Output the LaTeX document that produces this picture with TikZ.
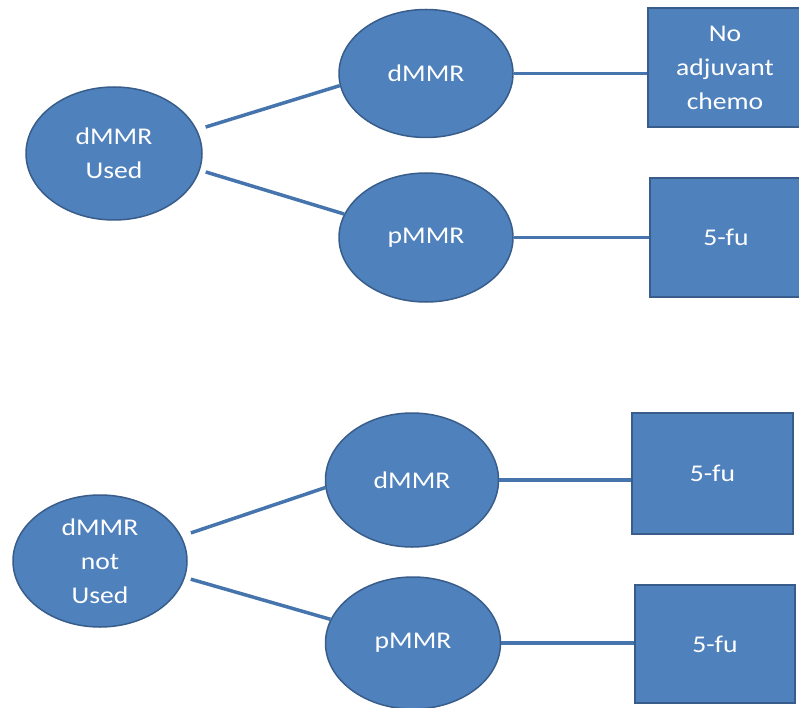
\documentclass[tikz,border=0pt]{standalone}
\usepackage{fontspec}
\setmainfont{Carlito}[FakeStretch=1.15]
\usetikzlibrary{shapes.geometric}
\definecolor{boxfill}{HTML}{4F81BD}
\definecolor{boxline}{HTML}{385D8A}
\definecolor{linkcol}{HTML}{4675AE}
\begin{document}
\begin{tikzpicture}[x=1pt,y=-1pt,
  every node/.style={font=\fontsize{24}{34}\selectfont, text=white, align=center, inner sep=0pt},
  oval/.style={ellipse, fill=boxfill, draw=boxline, line width=1.5pt},
  block/.style={rectangle, fill=boxfill, draw=boxline, line width=1.5pt},
  link/.style={draw=linkcol, line width=3.5pt}]
\path[use as bounding box, clip] (0,0) rectangle (799,708);
\fill[white] (0,0) rectangle (799,708);
% top group
\node[oval, minimum width=176pt, minimum height=133pt] (u) at (114,153.5) {dMMR\\Used};
\node[oval, minimum width=174pt, minimum height=128pt] (d1) at (426,73.5) {dMMR};
\node[oval, minimum width=174pt, minimum height=129pt] (p1) at (426,237.5) {pMMR};
\node[block, minimum width=154pt, minimum height=119pt] (r1) at (725,67.5) {No\\adjuvant\\chemo};
\node[block, minimum width=152pt, minimum height=119pt] (r2) at (726,237.5) {5-fu};
% bottom group
\node[oval, minimum width=174pt, minimum height=132pt] (n) at (100,561) {dMMR\\not\\Used};
\node[oval, minimum width=173pt, minimum height=134pt] (d2) at (412,480) {dMMR};
\node[oval, minimum width=175pt, minimum height=132pt] (p2) at (413,643) {pMMR};
\node[block, minimum width=161pt, minimum height=121pt] (r3) at (712.5,473.5) {5-fu};
\node[block, minimum width=160pt, minimum height=118pt] (r4) at (715,644) {5-fu};
% connectors
\draw[link, shorten <=9pt] (u.16) -- (d1.188);
\draw[link, shorten <=6pt] (u.-11) -- (p1.164);
\draw[link] (d1.east) -- (d1.east -| r1.west);
\draw[link] (p1.east) -- (p1.east -| r2.west);
\draw[link, shorten <=10pt] (n.17) -- (d2.185);
\draw[link, shorten <=6pt] (n.-11) -- (p2.164);
\draw[link] (d2.east) -- (d2.east -| r3.west);
\draw[link] (p2.east) -- (p2.east -| r4.west);
\end{tikzpicture}
\end{document}
